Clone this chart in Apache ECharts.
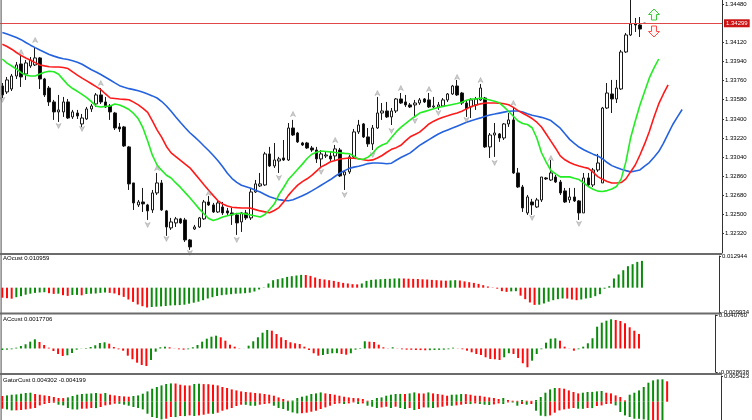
<!DOCTYPE html>
<html><head><meta charset="utf-8">
<script src="https://cdn.jsdelivr.net/npm/echarts@6/dist/echarts.min.js"></script>
<style>html,body{margin:0;padding:0;background:#fff}#c{width:752px;height:420px}</style>
</head><body><div id="c"></div>
<script>
// ---- axis / labels ----
const slotCount = 154;
const priceTicks = [1.32320,1.32500,1.32680,1.32860,1.33040,1.33220,1.33400,1.33580,1.33760,1.33940,1.34120,1.34480];
const priceMin = 1.32138, priceMax = 1.34518;
const currentPrice = 1.34299;
const aoRange = [-0.009934, 0.012944];
const acRange = [-0.0028638, 0.0040760];
const gatorRange = [-0.00386, 0.005423];
const aoTitle = 'AOcust 0.010959';
const acTitle = 'ACcust 0.0017706';
const gatorTitle = 'GatorCust 0.004302 -0.004199';

// ---- candles [open, close, low, high] ----
const candles = [
[1.33709,1.33625,1.33596,1.33737],[1.33653,1.33766,1.33634,1.33794],[1.33681,1.33803,1.33662,1.33822],[1.33803,1.33907,1.33775,1.33935],[1.33916,1.33794,1.33700,1.34001],
[1.33822,1.33926,1.33766,1.33954],[1.33897,1.33954,1.33879,1.33982],[1.33907,1.33973,1.33897,1.34076],[1.33973,1.33775,1.33681,1.33982],[1.33775,1.33625,1.33606,1.33785],
[1.33690,1.33559,1.33521,1.33709],[1.33559,1.33465,1.33390,1.33578],[1.33465,1.33484,1.33371,1.33625],[1.33465,1.33559,1.33418,1.33606],[1.33559,1.33408,1.33399,1.33587],
[1.33418,1.33465,1.33399,1.33484],[1.33455,1.33427,1.33399,1.33484],[1.33352,1.33408,1.33324,1.33446],[1.33399,1.33493,1.33390,1.33512],[1.33493,1.33521,1.33465,1.33540],
[1.33540,1.33625,1.33512,1.33643],[1.33625,1.33559,1.33540,1.33690],[1.33559,1.33512,1.33502,1.33606],[1.33521,1.33465,1.33390,1.33540],[1.33455,1.33314,1.33295,1.33465],
[1.33324,1.33305,1.33277,1.33361],[1.33324,1.33145,1.33136,1.33333],[1.33136,1.32788,1.32731,1.33145],[1.32797,1.32609,1.32543,1.32797],[1.32590,1.32618,1.32571,1.32637],
[1.32618,1.32600,1.32524,1.32750],[1.32590,1.32534,1.32449,1.32600],[1.32543,1.32703,1.32515,1.32731],[1.32703,1.32797,1.32684,1.32891],[1.32797,1.32543,1.32534,1.32825],
[1.32534,1.32383,1.32299,1.32543],[1.32374,1.32430,1.32355,1.32468],[1.32421,1.32459,1.32383,1.32477],[1.32459,1.32421,1.32412,1.32468],[1.32449,1.32261,1.32242,1.32468],
[1.32261,1.32195,1.32167,1.32270],[1.32364,1.32383,1.32355,1.32402],[1.32383,1.32468,1.32374,1.32477],[1.32459,1.32618,1.32449,1.32637],[1.32618,1.32590,1.32581,1.32675],
[1.32590,1.32524,1.32515,1.32609],[1.32524,1.32609,1.32515,1.32637],[1.32571,1.32515,1.32496,1.32618],[1.32534,1.32515,1.32496,1.32562],[1.32515,1.32496,1.32402,1.32562],
[1.32496,1.32421,1.32308,1.32515],[1.32430,1.32515,1.32336,1.32524],[1.32515,1.32468,1.32449,1.32543],[1.32468,1.32712,1.32449,1.32750],[1.32712,1.32788,1.32703,1.32825],
[1.32769,1.32788,1.32759,1.32891],[1.32778,1.33070,1.32769,1.33089],[1.33070,1.32957,1.32948,1.33136],[1.32957,1.33013,1.32938,1.33173],[1.33004,1.33023,1.32891,1.33042],
[1.33032,1.33013,1.33004,1.33201],[1.33013,1.33314,1.33004,1.33361],[1.33314,1.33248,1.33239,1.33390],[1.33267,1.33183,1.33173,1.33277],[1.33173,1.33154,1.33145,1.33183],
[1.33173,1.33126,1.33117,1.33183],[1.33126,1.33107,1.33089,1.33145],[1.33107,1.33023,1.32985,1.33136],[1.33023,1.33070,1.32948,1.33107],[1.33051,1.33060,1.33032,1.33089],
[1.33051,1.33023,1.33004,1.33089],[1.33051,1.33117,1.33013,1.33154],[1.33107,1.32863,1.32853,1.33126],[1.32872,1.32901,1.32731,1.32919],[1.32901,1.33042,1.32882,1.33060],
[1.33042,1.33277,1.33032,1.33305],[1.33277,1.33342,1.33258,1.33390],[1.33352,1.33230,1.33220,1.33361],[1.33230,1.33164,1.33136,1.33314],[1.33164,1.33314,1.33107,1.33342],
[1.33314,1.33455,1.33305,1.33606],[1.33455,1.33474,1.33390,1.33549],[1.33474,1.33418,1.33408,1.33559],[1.33418,1.33474,1.33342,1.33502],[1.33474,1.33587,1.33455,1.33596],
[1.33587,1.33549,1.33540,1.33643],[1.33559,1.33531,1.33512,1.33625],[1.33531,1.33512,1.33502,1.33549],[1.33531,1.33549,1.33418,1.33578],[1.33549,1.33578,1.33531,1.33596],
[1.33587,1.33559,1.33549,1.33596],[1.33578,1.33512,1.33502,1.33643],[1.33512,1.33521,1.33502,1.33606],[1.33512,1.33531,1.33484,1.33559],[1.33521,1.33578,1.33512,1.33596],
[1.33578,1.33634,1.33559,1.33643],[1.33634,1.33709,1.33625,1.33719],[1.33709,1.33625,1.33615,1.33766],[1.33643,1.33549,1.33531,1.33653],[1.33549,1.33493,1.33418,1.33568],
[1.33512,1.33578,1.33408,1.33596],[1.33531,1.33587,1.33484,1.33606],[1.33578,1.33690,1.33568,1.33728],[1.33596,1.33136,1.33126,1.33606],[1.33136,1.33248,1.33032,1.33267],
[1.33248,1.33267,1.33042,1.33361],[1.33258,1.33220,1.33183,1.33267],[1.33220,1.33352,1.33201,1.33361],[1.33352,1.33390,1.33324,1.33455],[1.33390,1.32891,1.32882,1.33502],
[1.32891,1.32759,1.32750,1.32938],[1.32759,1.32562,1.32524,1.32778],[1.32515,1.32665,1.32496,1.32684],[1.32618,1.32590,1.32496,1.32647],[1.32571,1.32637,1.32562,1.32656],
[1.32637,1.32853,1.32618,1.32853],[1.32844,1.32835,1.32825,1.32853],[1.32825,1.32891,1.32816,1.33013],[1.32853,1.32806,1.32797,1.32872],[1.32806,1.32703,1.32684,1.32825],
[1.32722,1.32618,1.32609,1.32750],[1.32637,1.32665,1.32609,1.32750],[1.32665,1.32628,1.32618,1.32750],[1.32628,1.32515,1.32449,1.32637],[1.32515,1.32844,1.32515,1.32891],
[1.32844,1.32778,1.32759,1.32891],[1.32778,1.32919,1.32759,1.32938],[1.32919,1.32985,1.32901,1.33070],[1.32797,1.33502,1.32797,1.33512],[1.33502,1.33643,1.33493,1.33737],
[1.33634,1.33587,1.33455,1.33766],[1.33587,1.33690,1.33549,1.33766],[1.33681,1.34029,1.33672,1.34048],[1.34029,1.34189,1.34020,1.34208],[1.34189,1.34292,1.34179,1.34565],
[1.34292,1.34283,1.34217,1.34349],[1.34283,1.34245,1.34170,1.34358],[1.34299,1.34299,1.34296,1.34302]
];

// ---- alligator lines ----
const jaw = [1.34212,1.34198,1.34182,1.34165,1.34145,1.34118,1.34093,1.34070,1.34048,1.34027,
1.34005,1.33990,1.33976,1.33966,1.33958,1.33946,1.33933,1.33914,1.33888,1.33862,
1.33841,1.33817,1.33791,1.33765,1.33738,1.33712,1.33697,1.33684,1.33675,1.33665,
1.33651,1.33633,1.33616,1.33596,1.33563,1.33521,1.33471,1.33418,1.33366,1.33317,
1.33269,1.33230,1.33189,1.33145,1.33102,1.33055,1.33006,1.32949,1.32889,1.32838,
1.32803,1.32775,1.32761,1.32747,1.32729,1.32711,1.32689,1.32667,1.32653,1.32640,
1.32633,1.32629,1.32639,1.32657,1.32676,1.32698,1.32722,1.32748,1.32775,1.32802,
1.32829,1.32860,1.32890,1.32913,1.32934,1.32946,1.32954,1.32966,1.32979,1.32985,
1.32985,1.32983,1.32978,1.32983,1.33010,1.33036,1.33058,1.33080,1.33115,1.33151,
1.33178,1.33205,1.33232,1.33258,1.33279,1.33296,1.33313,1.33331,1.33349,1.33367,
1.33383,1.33396,1.33409,1.33424,1.33437,1.33445,1.33454,1.33463,1.33471,1.33474,
1.33474,1.33465,1.33447,1.33433,1.33424,1.33414,1.33400,1.33384,1.33348,1.33312,
1.33259,1.33207,1.33170,1.33135,1.33109,1.33088,1.33068,1.33050,1.33025,1.32989,
1.32960,1.32942,1.32926,1.32913,1.32901,1.32910,1.32919,1.32955,1.32989,1.33039,
1.33092,1.33170,1.33258,1.33347,1.33419,1.33488];
const teeth = [1.34102,1.34081,1.34055,1.34024,1.33996,1.33973,1.33952,1.33929,1.33907,1.33898,
1.33890,1.33888,1.33888,1.33883,1.33873,1.33842,1.33812,1.33783,1.33757,1.33730,
1.33703,1.33675,1.33634,1.33596,1.33592,1.33587,1.33583,1.33579,1.33557,1.33531,
1.33498,1.33460,1.33380,1.33296,1.33225,1.33140,1.33080,1.33045,1.33009,1.32974,
1.32939,1.32887,1.32835,1.32781,1.32728,1.32678,1.32629,1.32599,1.32581,1.32569,
1.32565,1.32562,1.32562,1.32560,1.32546,1.32534,1.32525,1.32516,1.32538,1.32565,
1.32618,1.32680,1.32731,1.32776,1.32810,1.32836,1.32868,1.32909,1.32948,1.32971,
1.32996,1.33009,1.33022,1.33027,1.33031,1.33029,1.33024,1.33016,1.33008,1.33014,
1.33031,1.33055,1.33086,1.33113,1.33129,1.33151,1.33192,1.33231,1.33252,1.33275,
1.33312,1.33352,1.33378,1.33398,1.33416,1.33429,1.33443,1.33456,1.33472,1.33494,
1.33516,1.33528,1.33541,1.33549,1.33549,1.33549,1.33548,1.33542,1.33533,1.33508,
1.33477,1.33453,1.33429,1.33403,1.33368,1.33323,1.33257,1.33190,1.33124,1.33051,
1.33015,1.32989,1.32971,1.32957,1.32945,1.32934,1.32898,1.32857,1.32831,1.32811,
1.32797,1.32797,1.32801,1.32835,1.32901,1.32966,1.33060,1.33164,1.33281,1.33418,
1.33540,1.33634,1.33719];
const lips = [1.33963,1.33924,1.33897,1.33869,1.33834,1.33811,1.33803,1.33803,1.33822,1.33839,
1.33848,1.33843,1.33820,1.33769,1.33719,1.33685,1.33659,1.33630,1.33599,1.33562,
1.33519,1.33512,1.33517,1.33521,1.33539,1.33531,1.33511,1.33488,1.33451,1.33400,
1.33314,1.33192,1.33058,1.32966,1.32915,1.32870,1.32844,1.32797,1.32755,1.32706,
1.32658,1.32605,1.32553,1.32507,1.32462,1.32443,1.32457,1.32476,1.32489,1.32500,
1.32509,1.32512,1.32504,1.32495,1.32486,1.32477,1.32500,1.32547,1.32598,1.32688,
1.32754,1.32829,1.32877,1.32926,1.32974,1.33027,1.33067,1.33085,1.33097,1.33093,
1.33089,1.33084,1.33080,1.33075,1.33071,1.33049,1.33021,1.33020,1.33040,1.33076,
1.33128,1.33154,1.33171,1.33225,1.33277,1.33320,1.33356,1.33390,1.33422,1.33454,
1.33468,1.33481,1.33494,1.33507,1.33517,1.33526,1.33535,1.33544,1.33556,1.33574,
1.33587,1.33587,1.33596,1.33587,1.33578,1.33565,1.33551,1.33512,1.33469,1.33424,
1.33380,1.33357,1.33347,1.33316,1.33220,1.33081,1.32993,1.32914,1.32882,1.32854,
1.32854,1.32854,1.32841,1.32829,1.32798,1.32763,1.32738,1.32720,1.32716,1.32725,
1.32740,1.32764,1.32835,1.32995,1.33220,1.33380,1.33531,1.33658,1.33785,1.33879,
1.33963];

// ---- fractals [barIndex, price] ----
const fractalsUp = [[4,1.34029],[7,1.34142],[21,1.33737],[33,1.32938],[44,1.32703],[62,1.33446],[71,1.33201],[80,1.33643],[85,1.33690],[91,1.33681],[97,1.33794],[102,1.33766],[109,1.33549],[117,1.33032]];
const fractalsDown = [[0,1.33578],[12,1.33333],[17,1.33305],[31,1.32402],[35,1.32270],[40,1.32139],[50,1.32261],[59,1.32844],[68,1.32901],[73,1.32684],[79,1.33060],[83,1.33286],[88,1.33380],[93,1.33455],[99,1.33390],[105,1.32985],[113,1.32468],[123,1.32412]];

// ---- AO ----
const ao = [-0.004085,-0.004289,-0.004494,-0.003881,-0.003472,-0.002860,-0.002451,-0.002124,-0.001961,-0.001838,
-0.002247,-0.002533,-0.002451,-0.003064,-0.003350,-0.002982,-0.002941,-0.003105,-0.002574,-0.002451,
-0.002369,-0.002124,-0.001961,-0.002124,-0.002369,-0.003064,-0.003758,-0.004820,-0.005801,-0.006863,
-0.007557,-0.008088,-0.007884,-0.007762,-0.007639,-0.007476,-0.007271,-0.007190,-0.007108,-0.006945,
-0.006536,-0.006128,-0.005719,-0.005106,-0.004412,-0.003881,-0.003391,-0.003064,-0.002860,-0.002655,
-0.002451,-0.002369,-0.002247,-0.002043,-0.001552,-0.000735,-0.000123,0.001716,0.003064,0.003472,
0.003881,0.004412,0.004698,0.004984,0.005229,0.005188,0.004820,0.004167,0.003595,0.003350,
0.003064,0.002778,0.002369,0.001961,0.001716,0.001430,0.001348,0.001716,0.002778,0.003186,
0.003350,0.003472,0.003595,0.003636,0.003758,0.003799,0.003758,0.003677,0.003595,0.003554,
0.003431,0.003350,0.003186,0.003064,0.002941,0.002860,0.002982,0.003064,0.002941,0.002574,
0.002247,0.001961,0.001552,0.001021,0.000490,0.000123,-0.000409,-0.001430,-0.001716,-0.001511,
-0.001430,-0.003268,-0.004698,-0.006046,-0.007026,-0.006945,-0.006454,-0.005719,-0.005106,-0.004698,
-0.004412,-0.004453,-0.004820,-0.005106,-0.004820,-0.004412,-0.004167,-0.003472,-0.002655,-0.000409,
0.000613,0.003758,0.005392,0.007149,0.008783,0.009600,0.010539,0.010959];

// ---- AC ----
const ac = [-0.000183,-0.000146,-0.000097,0.000097,0.000304,0.000511,0.000828,0.001120,0.000791,0.000426,
0.000097,-0.000304,-0.000669,-0.000913,-0.000828,-0.000548,-0.000146,-0.000024,0.000061,0.000183,
0.000389,0.000669,0.000755,0.000584,0.000183,-0.000097,-0.000268,-0.000876,-0.001314,-0.001728,
-0.002008,-0.002130,-0.001400,-0.000389,0.000146,0.000219,0.000146,0.000024,-0.000097,-0.000146,
-0.000097,0.000146,0.000426,0.000828,0.001193,0.001436,0.001558,0.001363,0.000949,0.000462,
0.000219,-0.000037,-0.000010,0.000341,0.000876,0.001363,0.001923,0.002251,0.002166,0.001765,
0.001363,0.001034,0.000755,0.000633,0.000548,0.000219,-0.000183,-0.000584,-0.000876,-0.000791,
-0.000669,-0.000584,-0.000572,-0.000669,-0.000755,-0.000584,-0.000146,-0.000061,0.000876,0.000828,
0.000791,0.000462,0.000146,0.000024,0.000146,-0.000024,-0.000097,-0.000146,-0.000158,-0.000183,
-0.000195,-0.000219,-0.000207,-0.000183,-0.000170,-0.000146,-0.000097,0.000097,-0.000024,-0.000097,
-0.000268,-0.000462,-0.000669,-0.000791,-0.001071,-0.001278,-0.001314,-0.001400,-0.001071,-0.000584,
-0.000669,-0.001156,-0.001801,-0.002288,-0.001485,-0.000669,-0.000097,0.000706,0.001193,0.001241,
0.000949,0.000219,-0.000024,-0.000268,-0.000097,0.000219,0.000633,0.001241,0.002653,0.003140,
0.003383,0.003554,0.003468,0.003347,0.003067,0.002580,0.002166,0.001771];

// ---- Gator ----
const gatorUp = [0.001203,0.001329,0.001477,0.001540,0.001688,0.001836,0.001899,0.001625,0.001477,0.001329,
0.001203,0.000992,0.000781,0.000760,0.000907,0.001203,0.001477,0.001625,0.001688,0.001751,
0.001836,0.001688,0.001836,0.001477,0.001329,0.001203,0.001118,0.001055,0.001203,0.001329,
0.001688,0.002173,0.002743,0.003102,0.003439,0.003735,0.003861,0.003840,0.003587,0.003439,
0.003418,0.003735,0.003798,0.003714,0.003693,0.003587,0.003439,0.003102,0.002891,0.002595,
0.002384,0.002173,0.002047,0.001962,0.001836,0.001751,0.001625,0.001477,0.001266,0.000907,
0.000570,0.000211,0.000253,0.000781,0.001055,0.001266,0.001625,0.001751,0.001962,0.001751,
0.001625,0.001477,0.001266,0.001055,0.000907,0.000781,0.000739,0.000570,0.000211,0.000359,
0.000781,0.000907,0.001266,0.001477,0.001625,0.001646,0.001625,0.001751,0.001962,0.001751,
0.001730,0.001962,0.001751,0.001625,0.001477,0.001266,0.001477,0.001498,0.001625,0.001604,
0.001477,0.001266,0.001245,0.001055,0.000907,0.000781,0.000570,0.000781,0.000359,0.000211,
0.000190,0.000359,0.000211,0.000190,0.000359,0.000992,0.001899,0.002595,0.002891,0.002870,
0.002743,0.002384,0.002047,0.001751,0.001899,0.002047,0.002068,0.002173,0.002258,0.001899,
0.001751,0.001329,0.000992,0.000274,0.001477,0.001899,0.002384,0.003102,0.004009,0.004494,
0.004705,0.004726,0.004302];
const gatorDown = [-0.001477,-0.001625,-0.001836,-0.001815,-0.001751,-0.001625,-0.001477,-0.001329,-0.000781,-0.000485,
-0.000274,-0.000211,-0.000633,-0.000781,-0.001329,-0.001625,-0.001646,-0.001477,-0.001456,-0.001329,
-0.001350,-0.001118,-0.000781,-0.000633,-0.000422,-0.000443,-0.000633,-0.000844,-0.001118,-0.001329,
-0.001625,-0.002532,-0.003228,-0.003439,-0.003735,-0.003587,-0.003228,-0.003249,-0.003017,-0.003038,
-0.002891,-0.003017,-0.002891,-0.002743,-0.002532,-0.002553,-0.002321,-0.001899,-0.001625,-0.001329,
-0.000907,-0.000633,-0.000654,-0.000844,-0.000865,-0.000633,-0.000485,-0.000359,-0.000844,-0.001329,
-0.001540,-0.001899,-0.002258,-0.002469,-0.002427,-0.002321,-0.002110,-0.001899,-0.001540,-0.001203,
-0.000844,-0.000485,-0.000359,-0.000485,-0.000359,-0.000148,-0.000485,-0.000359,-0.000844,-0.001055,
-0.001329,-0.001203,-0.001055,-0.001329,-0.001055,-0.001329,-0.001540,-0.001329,-0.001751,-0.001540,
-0.001203,-0.001224,-0.001329,-0.001203,-0.001055,-0.000844,-0.000865,-0.000781,-0.000633,-0.000485,
-0.000506,-0.000359,-0.000485,-0.000633,-0.000696,-0.000570,-0.000359,-0.000485,-0.000148,-0.000169,
-0.000844,-0.000485,-0.000633,-0.000485,-0.001899,-0.002954,-0.003060,-0.002891,-0.002321,-0.001836,
-0.001625,-0.001477,-0.001329,-0.001477,-0.001498,-0.001329,-0.001350,-0.000907,-0.000781,-0.000485,
-0.000422,-0.000781,-0.002173,-0.002891,-0.003228,-0.003587,-0.003608,-0.003735,-0.004115,-0.004072,
-0.004030,-0.004199,null];

// ---- build ----
const GREEN = '#0b8a0b', RED = '#ff0a0a';
const slots = [];
for (let i = 0; i < slotCount; i++) slots.push(String(i));

function histItems(vals, firstColor, useAbs) {
  return vals.map((v, i) => {
    if (v === null) return '-';
    let c = firstColor;
    if (i > 0 && vals[i-1] !== null) {
      const a = useAbs ? Math.abs(v) : v, b = useAbs ? Math.abs(vals[i-1]) : vals[i-1];
      c = a > b ? GREEN : RED;
    }
    return { value: v, itemStyle: { color: c } };
  });
}

const fontFam = '"Liberation Sans", Arial, sans-serif';
const axisTxt = { fontSize: 6, color: '#000', fontFamily: fontFam, margin: 3 };

function mkX(gi) {
  return { type: 'category', gridIndex: gi, data: slots, boundaryGap: true, show: false };
}
function mkY(gi, min, max, labels, digits) {
  return {
    type: 'value', gridIndex: gi, position: 'right', min: min, max: max,
    splitLine: { show: false },
    axisLine: { show: true, onZero: false, lineStyle: { color: '#333', width: 1 } },
    axisTick: { show: true, length: 2, customValues: labels, lineStyle: { color: '#333' } },
    axisLabel: Object.assign({ customValues: labels, formatter: v => v.toFixed(digits) }, axisTxt)
  };
}

const upArrow = 'path://M5,0 L10,9 L5,6.5 L0,9 Z';
const downArrow = 'path://M0,0 L5,2.5 L10,0 L5,9 Z';
const BID = '#e04848';

const option = {
  animation: false,
  backgroundColor: '#fff',
  title: [
    { text: aoTitle, left: 3, top: 255, padding: 0, textStyle: { fontSize: 6, fontWeight: 'normal', color: '#000', fontFamily: fontFam } },
    { text: acTitle, left: 3, top: 316, padding: 0, textStyle: { fontSize: 6, fontWeight: 'normal', color: '#000', fontFamily: fontFam } },
    { text: gatorTitle, left: 3, top: 377, padding: 0, textStyle: { fontSize: 6, fontWeight: 'normal', color: '#000', fontFamily: fontFam } }
  ],
  grid: [
    { left: 0, right: 30, top: 0, height: 253 },
    { left: 0, right: 30, top: 256, height: 56 },
    { left: 0, right: 30, top: 315, height: 57 },
    { left: 0, right: 30, top: 376, height: 44 }
  ],
  xAxis: [mkX(0), mkX(1), mkX(2), mkX(3)],
  yAxis: [
    mkY(0, priceMin, priceMax, priceTicks, 5),
    mkY(1, aoRange[0], aoRange[1], aoRange, 6),
    mkY(2, acRange[0], acRange[1], acRange, 7),
    mkY(3, gatorRange[0], gatorRange[1], [gatorRange[1]], 6)
  ],
  graphic: [
    { type: 'rect', shape: { x: 0, y: 253, width: 722, height: 2 }, style: { fill: '#6b6b6b' }, z: 100 },
    { type: 'rect', shape: { x: 0, y: 312.5, width: 722, height: 2 }, style: { fill: '#6b6b6b' }, z: 100 },
    { type: 'rect', shape: { x: 0, y: 373, width: 722, height: 2 }, style: { fill: '#6b6b6b' }, z: 100 },
    { type: 'rect', shape: { x: 0.5, y: 0, width: 1.2, height: 420 }, style: { fill: '#6b6b6b' }, z: 100 },
    { type: 'polygon', shape: { points: [[654,9],[659.5,14.5],[656.5,14.5],[656.5,20],[651.5,20],[651.5,14.5],[648.5,14.5]] },
      style: { fill: '#f4fff4', stroke: '#3cc83c', lineWidth: 1 }, z: 100 },
    { type: 'polygon', shape: { points: [[651.5,26],[656.5,26],[656.5,31.5],[659.5,31.5],[654,37],[648.5,31.5],[651.5,31.5]] },
      style: { fill: '#fff4f4', stroke: '#ff4a4a', lineWidth: 1 }, z: 100 }
  ],
  series: [
    {
      type: 'candlestick', xAxisIndex: 0, yAxisIndex: 0, data: candles, barWidth: 3, clip: true,
      itemStyle: { color: '#ffffff', color0: '#000000', borderColor: '#1a1a1a', borderColor0: '#1a1a1a', borderWidth: 1 }
    },
    { type: 'line', name: 'Bid', xAxisIndex: 0, yAxisIndex: 0, data: [], z: 2, color: BID,
      lineStyle: { color: BID }, itemStyle: { color: BID },
      markLine: {
        silent: true, symbol: ['none', 'none'], animation: false, precision: 5,
        lineStyle: { color: BID, width: 1, type: 'solid', opacity: 1 },
        emphasis: { disabled: true },
        label: { show: true, position: 'end', distance: 2, formatter: currentPrice.toFixed(5),
          backgroundColor: '#cc1414', color: '#fff', fontSize: 6, fontFamily: fontFam, padding: [1, 2, 1, 2] },
        data: [{ yAxis: currentPrice, lineStyle: { color: BID } }]
      }
    },
    { type: 'line', name: 'Jaw', xAxisIndex: 0, yAxisIndex: 0, data: jaw, showSymbol: false, symbol: 'none',
      lineStyle: { color: '#2462de', width: 1.6 }, z: 3 },
    { type: 'line', name: 'Teeth', xAxisIndex: 0, yAxisIndex: 0, data: teeth, showSymbol: false, symbol: 'none',
      lineStyle: { color: '#ff1a1a', width: 1.6 }, z: 3 },
    { type: 'line', name: 'Lips', xAxisIndex: 0, yAxisIndex: 0, data: lips, showSymbol: false, symbol: 'none',
      lineStyle: { color: '#22ec22', width: 1.6 }, z: 3 },
    { type: 'scatter', xAxisIndex: 0, yAxisIndex: 0, data: fractalsUp, symbol: upArrow, symbolSize: [5, 5],
      itemStyle: { color: '#c4c4c4', borderColor: '#8c8c8c', borderWidth: 0.5 }, z: 4 },
    { type: 'scatter', xAxisIndex: 0, yAxisIndex: 0, data: fractalsDown, symbol: downArrow, symbolSize: [5, 5],
      itemStyle: { color: '#c4c4c4', borderColor: '#8c8c8c', borderWidth: 0.5 }, z: 4 },
    { type: 'bar', xAxisIndex: 1, yAxisIndex: 1, data: histItems(ao, RED, false), barWidth: 2 },
    { type: 'bar', xAxisIndex: 2, yAxisIndex: 2, data: histItems(ac, GREEN, false), barWidth: 2 },
    { type: 'bar', xAxisIndex: 3, yAxisIndex: 3, data: histItems(gatorUp, RED, true), barWidth: 2, barGap: '-100%' },
    { type: 'bar', xAxisIndex: 3, yAxisIndex: 3, data: histItems(gatorDown, RED, true), barWidth: 2, barGap: '-100%' }
  ]
};

const chart = echarts.init(document.getElementById('c'), null, { renderer: 'canvas' });
chart.setOption(option);
</script>
</body></html>
